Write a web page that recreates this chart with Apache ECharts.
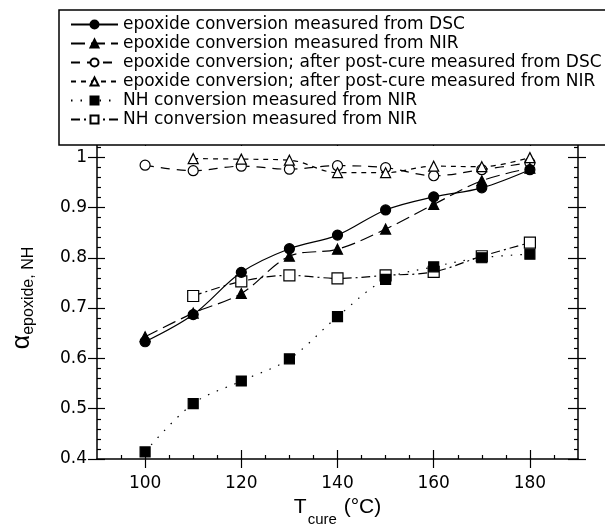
<!DOCTYPE html>
<html>
<head>
<meta charset="utf-8">
<script src="https://cdn.jsdelivr.net/npm/echarts@6/dist/echarts.min.js"></script>
<style>
  html, body { margin: 0; padding: 0; background: #fff; }
  #chart { width: 605px; height: 525px; }
</style>
</head>
<body>
<div id="chart"></div>
<script>
// cure temperatures (°C)
const temps = [100, 110, 120, 130, 140, 150, 160, 170, 180];

// conversions (null = no point)
const epoxDSC = [0.633, 0.687, 0.771, 0.818, 0.845, 0.895, 0.921, 0.939, 0.975];
const epoxNIR = [0.643, 0.690, 0.729, 0.803, 0.817, 0.857, 0.906, 0.953, 0.978];
const postDSC = [0.984, 0.973, 0.982, 0.976, 0.983, 0.979, 0.963, 0.975, 0.989];
const postNIR = [null, 0.997, 0.996, 0.994, 0.969, 0.969, 0.982, 0.981, 0.999];
const nhNIR = [0.414, 0.510, 0.555, 0.599, 0.683, 0.757, 0.782, 0.800, 0.807];
const nhNIR2 = [null, 0.724, 0.753, 0.765, 0.759, 0.765, 0.772, 0.803, 0.830];

const names = [
    'epoxide conversion measured from DSC',
    'epoxide conversion measured from NIR',
    'epoxide conversion; after post-cure measured from DSC',
    'epoxide conversion; after post-cure measured from NIR',
    'NH conversion measured from NIR',
    'NH conversion measured from NIR '
];

// tick labels
const xTicks = [100, 120, 140, 160, 180];
const yTicks = [0.4, 0.5, 0.6, 0.7, 0.8, 0.9, 1];

// small ticks: every 5 °C and every 0.02
const xMinor = [];
for (let v = 95; v < 190; v += 5) if (v % 20 !== 0) xMinor.push(v);
const yMinor = [];
for (let i = 21; i <= 52; i++) if (i % 5 !== 0) yMinor.push(+(i * 0.02).toFixed(2));

const FONT = 'DejaVu Sans';

function pairs(vals) {
    return temps.map((t, i) => [t, vals[i]]).filter(p => p[1] !== null);
}

// extra axes that only draw ticks (inside / outside / minor)
function tickAxis(pos, values, len, inside, extra) {
    const isX = pos === 'top' || pos === 'bottom';
    return Object.assign({
        type: 'value',
        position: pos,
        min: isX ? 90 : 0.4,
        max: isX ? 190 : 1.04,
        axisLine: { show: false },
        axisTick: { show: true, inside, length: len, customValues: values, lineStyle: { color: '#000', width: 1.2 } },
        axisLabel: { show: false },
        splitLine: { show: false }
    }, extra || {});
}

function lineSeries(name, vals, symbol, filled, dash, size) {
    return {
        name,
        type: 'line',
        data: pairs(vals),
        smooth: 0.35,
        symbol,
        symbolSize: size,
        showAllSymbol: true,
        lineStyle: { color: '#000', width: 1.2, type: dash },
        itemStyle: { color: filled ? '#000' : '#fff', borderColor: '#000', borderWidth: 1.2 },
        emphasis: { disabled: true },
        z: filled ? 3 : 2
    };
}

const chart = echarts.init(document.getElementById('chart'));

chart.setOption({
    animation: false,
    backgroundColor: '#fff',
    textStyle: { fontFamily: FONT, color: '#000' },
    grid: { left: 97, right: 27, top: 137, bottom: 66, containLabel: false, outerBoundsMode: 'none' },
    legend: {
        orient: 'vertical',
        left: 59,
        right: -40,
        top: 10,
        padding: [6, 14, 17, 11],
        itemGap: 2,
        itemWidth: 47,
        itemHeight: 10,
        backgroundColor: '#fff',
        borderColor: '#000',
        borderWidth: 1.5,
        borderRadius: 0,
        textStyle: { fontFamily: FONT, fontSize: 17, color: '#000' },
        data: names
    },
    xAxis: [
        {
            type: 'value', position: 'bottom', min: 90, max: 190,
            axisLine: { show: true, lineStyle: { color: '#000', width: 1.5 } },
            axisTick: { show: true, inside: false, length: 9, customValues: xTicks, lineStyle: { color: '#000', width: 1.2 } },
            axisLabel: { show: true, customValues: xTicks, margin: 16, fontSize: 17, fontFamily: FONT, color: '#000' },
            splitLine: { show: false },
            name: '{m|T}{sub|cure}{m| (°C)}',
            nameLocation: 'middle',
            nameGap: 31,
            nameTextStyle: {
                rich: {
                    m: { fontFamily: 'Liberation Sans', fontSize: 21, color: '#000', verticalAlign: 'top' },
                    sub: { fontFamily: 'Liberation Sans', fontSize: 15, color: '#000', verticalAlign: 'top', padding: [15, 1, 0, 1] }
                }
            }
        },
        tickAxis('bottom', xTicks, 9, true),
        tickAxis('bottom', xMinor, 4, true),
        tickAxis('top', xTicks, 9, true, { axisLine: { show: true, lineStyle: { color: '#000', width: 1.5 } } })
    ],
    yAxis: [
        {
            type: 'value', position: 'left', min: 0.4, max: 1.04,
            axisLine: { show: true, lineStyle: { color: '#000', width: 1.5 } },
            axisTick: { show: true, inside: false, length: 9, customValues: yTicks, lineStyle: { color: '#000', width: 1.2 } },
            axisLabel: { show: true, customValues: yTicks, margin: 10, fontSize: 17, fontFamily: FONT, color: '#000' },
            splitLine: { show: false },
            name: 'α{sub|epoxide, NH}',
            nameLocation: 'middle',
            nameGap: 60,
            nameRotate: 90,
            nameTextStyle: {
                fontFamily: 'Liberation Sans', fontSize: 25, color: '#000',
                rich: { sub: { fontFamily: 'Liberation Sans', fontSize: 16, color: '#000', padding: [14, 0, 0, 0] } }
            }
        },
        tickAxis('left', yTicks, 8, true),
        tickAxis('left', yMinor, 4, true),
        tickAxis('right', yTicks, 8, false, { axisLine: { show: true, lineStyle: { color: '#000', width: 1.5 } } }),
        tickAxis('right', yTicks, 10, true),
        tickAxis('right', yMinor, 4, true)
    ],
    series: [
        lineSeries(names[0], epoxDSC, 'circle', true, 'solid', 10),
        lineSeries(names[1], epoxNIR, 'triangle', true, [14, 6], 10),
        lineSeries(names[2], postDSC, 'circle', false, [9, 7], 10),
        lineSeries(names[3], postNIR, 'triangle', false, [5, 5], 10),
        lineSeries(names[4], nhNIR, 'rect', true, [1.5, 8], 10),
        lineSeries(names[5], nhNIR2, 'rect', false, [9, 4, 2, 4], 11)
    ]
});
</script>
</body>
</html>
